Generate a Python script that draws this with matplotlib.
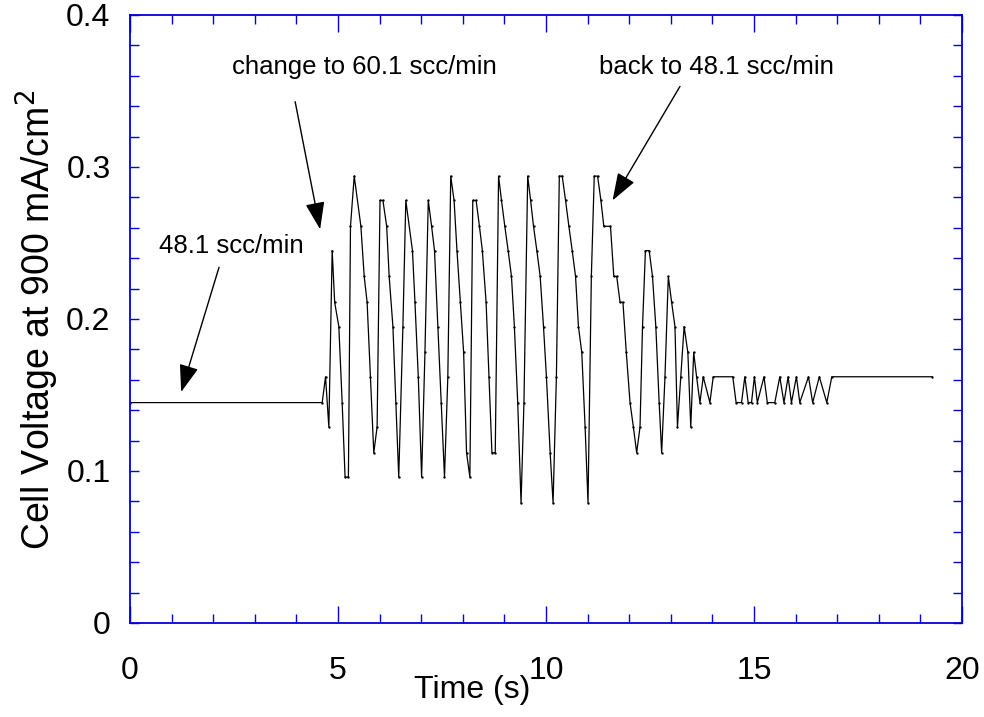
import matplotlib
matplotlib.use("Agg")
import matplotlib.pyplot as plt
from matplotlib.ticker import MultipleLocator

plt.rcParams['font.family'] = ['Liberation Sans', 'DejaVu Sans']

# ---- data ----
time_s = [0.00, 4.62, 4.70, 4.78, 4.86, 4.92, 5.02, 5.10, 5.17, 5.25,
          5.30, 5.39, 5.55, 5.63, 5.70, 5.78, 5.86, 5.94, 6.01, 6.08,
          6.17, 6.23, 6.32, 6.39, 6.46, 6.56, 6.63, 6.79, 6.85, 6.93,
          7.01, 7.09, 7.17, 7.25, 7.32, 7.40, 7.48, 7.56, 7.64, 7.71,
          7.79, 7.86, 7.94, 8.02, 8.09, 8.17, 8.24, 8.32, 8.40, 8.47,
          8.56, 8.63, 8.70, 8.78, 8.86, 8.93, 9.01, 9.09, 9.17, 9.24,
          9.32, 9.40, 9.47, 9.56, 9.63, 9.70, 9.78, 9.86, 9.94, 10.01,
          10.10, 10.17, 10.25, 10.32, 10.39, 10.47, 10.55, 10.63, 10.71, 10.78,
          10.86, 10.94, 11.01, 11.09, 11.16, 11.24, 11.32, 11.39, 11.55, 11.63,
          11.70, 11.78, 11.85, 11.93, 12.02, 12.10, 12.18, 12.26, 12.32, 12.39,
          12.48, 12.56, 12.64, 12.72, 12.78, 12.86, 12.94, 13.02, 13.10, 13.16,
          13.24, 13.32, 13.41, 13.48, 13.55, 13.62, 13.70, 13.78, 13.94, 14.02,
          14.49, 14.57, 14.70, 14.78, 14.86, 14.94, 15.01, 15.08, 15.24, 15.32,
          15.50, 15.62, 15.72, 15.82, 15.90, 16.02, 16.10, 16.31, 16.41, 16.57,
          16.75, 16.87, 19.28]
voltage = [0.145, 0.145, 0.162, 0.129, 0.245, 0.211, 0.195, 0.145, 0.096, 0.096,
           0.261, 0.294, 0.261, 0.228, 0.211, 0.162, 0.112, 0.129, 0.278, 0.278,
           0.261, 0.228, 0.195, 0.145, 0.096, 0.195, 0.278, 0.245, 0.211, 0.162,
           0.096, 0.178, 0.278, 0.261, 0.245, 0.195, 0.145, 0.096, 0.162, 0.294,
           0.278, 0.245, 0.211, 0.178, 0.112, 0.096, 0.278, 0.278, 0.261, 0.245,
           0.211, 0.162, 0.112, 0.112, 0.294, 0.278, 0.261, 0.245, 0.228, 0.195,
           0.145, 0.079, 0.145, 0.294, 0.278, 0.261, 0.245, 0.228, 0.195, 0.162,
           0.112, 0.079, 0.162, 0.294, 0.294, 0.278, 0.261, 0.245, 0.228, 0.195,
           0.178, 0.129, 0.079, 0.228, 0.294, 0.294, 0.278, 0.261, 0.261, 0.228,
           0.228, 0.211, 0.211, 0.178, 0.145, 0.129, 0.112, 0.129, 0.195, 0.245,
           0.245, 0.228, 0.195, 0.145, 0.112, 0.162, 0.228, 0.211, 0.195, 0.129,
           0.162, 0.195, 0.178, 0.129, 0.178, 0.162, 0.145, 0.162, 0.145, 0.162,
           0.162, 0.145, 0.145, 0.162, 0.145, 0.145, 0.162, 0.145, 0.162, 0.145,
           0.145, 0.162, 0.145, 0.162, 0.145, 0.162, 0.145, 0.162, 0.145, 0.162,
           0.145, 0.162, 0.162]

x_ticks = [0, 5, 10, 15, 20]
x_tick_labels = ["0", "5", "10", "15", "20"]
y_ticks = [0, 0.1, 0.2, 0.3, 0.4]
y_tick_labels = ["0", "0.1", "0.2", "0.3", "0.4"]

annotations = [
    ("48.1 scc/min", (2.43, 0.248), (2.14, 0.234), (1.23, 0.152)),
    ("change to 60.1 scc/min", (5.64, 0.366), (3.97, 0.343), (4.57, 0.259)),
    ("back to 48.1 scc/min", (14.09, 0.366), (13.22, 0.353), (11.60, 0.278)),
]

# ---- figure ----
W, H = 984, 717
fig = plt.figure(figsize=(W / 100, H / 100), dpi=100)
ax = fig.add_axes([130 / W, 1 - 623 / H, 832 / W, 608 / H])

ax.plot(time_s, voltage, color='black', lw=0.9, marker='o', ms=0.7,
        mec='black', mfc='black')

ax.set_xlim(0, 20)
ax.set_ylim(0, 0.4)
ax.set_xticks(x_ticks)
ax.set_xticklabels(x_tick_labels)
ax.set_yticks(y_ticks)
ax.set_yticklabels(y_tick_labels)
ax.xaxis.set_minor_locator(MultipleLocator(1))
ax.yaxis.set_minor_locator(MultipleLocator(0.02))

blue = '#0000dd'
for s in ax.spines.values():
    s.set_color(blue)
    s.set_linewidth(1.3)

ax.tick_params(axis='both', which='both', direction='in', top=True, right=True,
               color=blue, width=1.0, labelsize=23, labelcolor='black')
ax.tick_params(axis='x', which='major', length=12.5, pad=24)
ax.tick_params(axis='x', which='minor', length=6.5)
ax.tick_params(axis='y', which='both', length=6.5, pad=14)

fig.text(472 / W, 1 - 690 / H, "Time (s)", ha='center', va='center', fontsize=23)
fig.text(37 / W, 1 - 320 / H, r"Cell Voltage at 900 mA/cm$^2$", ha='center',
         va='center', rotation=90, fontsize=27)

for label, txt_pos, tail, tip in annotations:
    ax.text(txt_pos[0], txt_pos[1], label, ha='center', va='center', fontsize=18.5)
    ax.annotate('', xy=tip, xytext=tail,
                arrowprops=dict(arrowstyle='-|>,head_length=1.7,head_width=0.6',
                                color='black', lw=1.0, shrinkA=0, shrinkB=0))

fig.savefig('out.png', dpi=100)
